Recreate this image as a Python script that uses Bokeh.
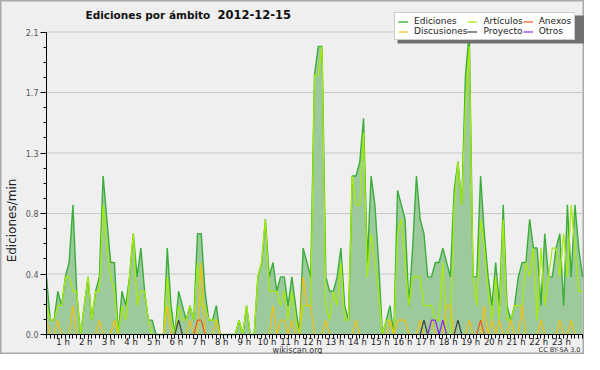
import math
from bokeh.plotting import figure
from bokeh.models import Range1d, FixedTicker, Legend, LegendItem, Label, BoxAnnotation
from bokeh.embed import file_html
from bokeh.resources import INLINE

# ---- data (10-minute steps, edits per minute) ----
hours = list(range(1, 24))
hour_labels = [f"{h} h" for h in hours]
y_ticks = [0.0, 0.42, 0.84, 1.26, 1.68, 2.1]
y_tick_labels = ["0.0", "0.4", "0.8", "1.3", "1.7", "2.1"]

ediciones = [
    0.4, 0.1, 0.1, 0.3, 0.2, 0.4, 0.5, 0.9, 0.3, 0.0,
    0.2, 0.4, 0.1, 0.3, 0.4, 1.1, 0.8, 0.5, 0.5, 0.0,
    0.3, 0.2, 0.4, 0.7, 0.4, 0.6, 0.3, 0.1, 0.1, 0.0,
    0.0, 0.0, 0.6, 0.2, 0.0, 0.3, 0.2, 0.1, 0.2, 0.1,
    0.7, 0.7, 0.3, 0.1, 0.1, 0.2, 0.0, 0.0, 0.0, 0.0,
    0.0, 0.1, 0.0, 0.2, 0.0, 0.0, 0.4, 0.5, 0.8, 0.4,
    0.5, 0.3, 0.4, 0.4, 0.2, 0.4, 0.2, 0.0, 0.6, 0.5,
    0.4, 1.8, 2.0, 2.0, 0.4, 0.3, 0.3, 0.4, 0.6, 0.2,
    0.1, 1.1, 1.1, 1.2, 1.5, 0.5, 1.1, 0.9, 0.5, 0.0,
    0.1, 0.2, 0.0, 1.0, 0.9, 0.8, 0.2, 0.6, 1.1, 0.8,
    0.7, 0.4, 0.4, 0.5, 0.5, 0.6, 0.5, 0.4, 1.0, 1.2,
    0.9, 1.8, 2.1, 0.4, 0.4, 1.1, 0.7, 0.4, 0.2, 0.5,
    0.2, 0.9, 0.2, 0.1, 0.2, 0.4, 0.5, 0.5, 0.8, 0.6,
    0.6, 0.2, 0.7, 0.4, 0.4, 0.6, 0.7, 0.2, 0.9, 0.4,
    0.9, 0.6, 0.4,
]
articulos = [
    0.2, 0.1, 0.1, 0.2, 0.2, 0.4, 0.4, 0.3, 0.3, 0.0,
    0.2, 0.4, 0.1, 0.3, 0.3, 0.9, 0.6, 0.4, 0.3, 0.0,
    0.2, 0.1, 0.4, 0.7, 0.2, 0.3, 0.3, 0.1, 0.0, 0.0,
    0.0, 0.0, 0.4, 0.1, 0.0, 0.2, 0.1, 0.1, 0.2, 0.1,
    0.5, 0.2, 0.2, 0.1, 0.1, 0.1, 0.0, 0.0, 0.0, 0.0,
    0.0, 0.1, 0.0, 0.2, 0.0, 0.0, 0.4, 0.5, 0.8, 0.3,
    0.3, 0.3, 0.2, 0.3, 0.1, 0.3, 0.1, 0.0, 0.2, 0.2,
    0.2, 1.8, 1.8, 2.0, 0.2, 0.1, 0.3, 0.2, 0.5, 0.1,
    0.1, 1.1, 0.9, 0.9, 1.4, 0.4, 0.7, 0.5, 0.3, 0.0,
    0.1, 0.1, 0.0, 0.7, 0.8, 0.5, 0.2, 0.4, 0.4, 0.4,
    0.2, 0.2, 0.2, 0.1, 0.1, 0.5, 0.0, 0.0, 0.9, 1.2,
    0.9, 1.6, 2.0, 0.4, 0.2, 0.8, 0.6, 0.3, 0.1, 0.4,
    0.1, 0.8, 0.1, 0.1, 0.2, 0.2, 0.2, 0.5, 0.4, 0.6,
    0.1, 0.6, 0.2, 0.4, 0.6, 0.6, 0.4, 0.7, 0.4, 0.9,
    0.6, 0.3, 0.3,
]
discusiones = [
    0.1, 0, 0, 0.1, 0, 0, 0, 0.2, 0, 0,
    0, 0, 0, 0, 0.1, 0, 0, 0, 0.1, 0,
    0, 0, 0, 0, 0, 0, 0, 0, 0, 0,
    0, 0, 0.2, 0, 0, 0, 0, 0, 0.1, 0,
    0, 0.5, 0, 0, 0, 0.1, 0, 0, 0, 0,
    0, 0, 0, 0, 0, 0, 0, 0, 0, 0,
    0.2, 0, 0.1, 0.1, 0, 0.1, 0, 0, 0.4, 0.2,
    0.2, 0, 0, 0, 0.1, 0, 0, 0, 0, 0,
    0, 0, 0.1, 0, 0, 0, 0, 0, 0, 0,
    0, 0.1, 0, 0.1, 0.1, 0.1, 0, 0, 0, 0.1,
    0, 0, 0.1, 0, 0, 0, 0.2, 0.2, 0, 0,
    0, 0, 0.1, 0, 0, 0, 0.2, 0, 0.1, 0,
    0.1, 0, 0, 0.1, 0, 0, 0.2, 0, 0, 0,
    0, 0.1, 0, 0, 0, 0, 0.1, 0, 0, 0.1,
    0, 0, 0,
]
anexos = [
    0, 0, 0, 0, 0, 0, 0, 0, 0, 0,
    0, 0, 0, 0, 0, 0, 0, 0, 0, 0,
    0, 0, 0, 0, 0, 0, 0, 0, 0, 0,
    0, 0, 0, 0, 0, 0, 0, 0, 0, 0,
    0.1, 0.1, 0, 0, 0, 0, 0, 0, 0, 0,
    0, 0, 0, 0, 0, 0, 0, 0, 0, 0,
    0, 0, 0, 0, 0, 0, 0, 0, 0, 0,
    0, 0, 0, 0, 0, 0, 0, 0, 0, 0,
    0, 0, 0, 0, 0, 0, 0, 0, 0, 0,
    0, 0, 0, 0, 0, 0, 0, 0, 0, 0,
    0, 0, 0, 0, 0, 0, 0, 0, 0, 0,
    0, 0, 0, 0, 0, 0.1, 0, 0, 0, 0,
    0, 0, 0, 0, 0, 0, 0, 0, 0, 0,
    0, 0, 0, 0, 0, 0, 0, 0, 0, 0,
    0, 0, 0,
]
proyecto = [
    0, 0, 0, 0, 0, 0, 0, 0, 0, 0,
    0, 0, 0, 0, 0, 0, 0, 0, 0, 0,
    0, 0, 0, 0, 0, 0, 0, 0, 0, 0,
    0, 0, 0, 0, 0, 0.1, 0, 0, 0, 0,
    0, 0, 0, 0, 0, 0, 0, 0, 0, 0,
    0, 0, 0, 0, 0, 0, 0, 0, 0, 0,
    0, 0, 0, 0, 0, 0, 0, 0, 0, 0,
    0, 0, 0, 0, 0, 0, 0, 0, 0, 0,
    0, 0, 0, 0, 0, 0, 0, 0, 0, 0,
    0, 0, 0, 0, 0, 0, 0, 0, 0, 0,
    0.1, 0, 0, 0, 0, 0, 0, 0, 0, 0.1,
    0, 0, 0, 0, 0, 0, 0, 0, 0, 0,
    0, 0, 0, 0, 0, 0, 0, 0, 0, 0,
    0, 0, 0, 0, 0, 0, 0, 0, 0, 0,
    0, 0, 0,
]
otros = [
    0, 0, 0, 0, 0, 0, 0, 0, 0, 0,
    0, 0, 0, 0, 0, 0, 0, 0, 0, 0,
    0, 0, 0, 0, 0, 0, 0, 0, 0, 0,
    0, 0, 0, 0, 0, 0, 0, 0, 0, 0,
    0, 0, 0, 0, 0, 0, 0, 0, 0, 0,
    0, 0, 0, 0, 0, 0, 0, 0, 0, 0,
    0, 0, 0, 0, 0, 0, 0, 0, 0, 0,
    0, 0, 0, 0, 0, 0, 0, 0, 0, 0,
    0, 0, 0, 0, 0, 0, 0, 0, 0, 0,
    0, 0, 0, 0, 0, 0, 0, 0, 0, 0,
    0, 0, 0.1, 0.1, 0, 0.1, 0, 0, 0, 0,
    0, 0, 0, 0, 0, 0, 0, 0, 0, 0,
    0, 0, 0, 0, 0, 0, 0, 0, 0, 0,
    0, 0, 0, 0, 0, 0, 0, 0, 0, 0,
    0, 0, 0,
]

x = list(range(len(ediciones)))
n_last = len(ediciones) - 1
y_max = y_ticks[-1]

# ---- layout (pixels in the figure) ----
W, H = 584, 354
PX_LEFT, PX_RIGHT = 46, 582      # plot area horizontal extent
PX_TOP, PX_BOTTOM = 31.5, 334    # plot area vertical extent
kx = (PX_RIGHT - PX_LEFT) / n_last
ky = (PX_BOTTOM - PX_TOP) / y_max

p = figure(width=W, height=H, output_backend="svg", toolbar_location=None,
           x_range=Range1d(-PX_LEFT / kx, (W - PX_LEFT) / kx),
           y_range=Range1d(-(H - PX_BOTTOM) / ky, PX_BOTTOM / ky),
           min_border=0, min_border_left=0, min_border_right=0,
           min_border_top=0, min_border_bottom=0,
           background_fill_color="#efeff0", border_fill_color="#efeff0",
           outline_line_color="#a9a9a9", outline_line_width=2)

# ticks
label_pos = [round(6 * h - 1.6, 2) for h in hours]
xticker = FixedTicker(ticks=label_pos, minor_ticks=x)
yminor = [round(k * y_max / 20, 4) for k in range(21)]
yticker = FixedTicker(ticks=y_ticks, minor_ticks=yminor)

p.xaxis.fixed_location = 0
p.xaxis.bounds = (0, n_last)
p.xaxis.ticker = xticker
p.xaxis.major_label_overrides = dict(zip(label_pos, hour_labels))
p.xaxis.major_tick_line_color = None
p.xaxis.major_tick_out = 0
p.xaxis.major_tick_in = 0
p.xaxis.minor_tick_out = 4
p.xaxis.minor_tick_in = 0
p.xaxis.minor_tick_line_color = "black"
p.xaxis.axis_line_color = "black"
p.xaxis.major_label_standoff = -2
p.xaxis.major_label_text_font = "DejaVu Sans"
p.xaxis.major_label_text_font_size = "8.5px"
p.xaxis.major_label_text_color = "#222222"

p.yaxis.fixed_location = 0
p.yaxis.bounds = (0, y_max)
p.yaxis.ticker = yticker
p.yaxis.major_label_overrides = dict(zip(y_ticks, y_tick_labels))
p.yaxis.major_tick_out = 6
p.yaxis.major_tick_in = 0
p.yaxis.minor_tick_out = 3
p.yaxis.minor_tick_in = 0
p.yaxis.major_tick_line_color = "black"
p.yaxis.minor_tick_line_color = "black"
p.yaxis.axis_line_color = "black"
p.yaxis.major_label_standoff = 2
p.yaxis.major_label_text_font = "DejaVu Sans"
p.yaxis.major_label_text_font_size = "8px"
p.yaxis.major_label_text_color = "#555555"

p.xgrid.visible = False
p.ygrid.visible = False
# horizontal grid lines across the plot area only
p.segment(x0=[0] * len(y_ticks[1:]), x1=[n_last] * len(y_ticks[1:]),
          y0=y_ticks[1:], y1=y_ticks[1:], line_color="#c9c9c9", line_width=1)

# ---- series ----
p.varea(x=x, y1=0, y2=ediciones, fill_color="#9dca9d", fill_alpha=1.0)
r_ed = p.line(x, ediciones, line_color="#3aad3a", line_width=1.4)
r_ar = p.line(x, articulos, line_color="#a8ec00", line_width=1.2)
r_di = p.line(x, discusiones, line_color="#f2c010", line_width=1.2)
r_an = p.line(x, anexos, line_color="#ee5a1a", line_width=1.2)
r_pr = p.line(x, proyecto, line_color="#404040", line_width=1.2)
r_ot = p.line(x, otros, line_color="#8a2be8", line_width=1.2)

# ---- legend with shadow (screen units measured from the bottom-left) ----
LEG_LEFT, LEG_TOP, LEG_BOTTOM, LEG_RIGHT = 394, 12, 40, 581
shadow = BoxAnnotation(left=LEG_LEFT + 3, right=LEG_RIGHT + 3,
                       top=H - (LEG_TOP + 3), bottom=H - (LEG_BOTTOM + 3),
                       left_units="screen", right_units="screen",
                       top_units="screen", bottom_units="screen",
                       fill_color="#707070", fill_alpha=1.0, line_color=None)
p.add_layout(shadow)

legend = Legend(items=[
    LegendItem(label="Ediciones", renderers=[r_ed]),
    LegendItem(label="Discusiones", renderers=[r_di]),
    LegendItem(label="Artículos", renderers=[r_ar]),
    LegendItem(label="Proyecto", renderers=[r_pr]),
    LegendItem(label="Anexos", renderers=[r_an]),
    LegendItem(label="Otros", renderers=[r_ot]),
], location=(LEG_LEFT, H - LEG_BOTTOM), orientation="vertical", nrows=2,
    glyph_width=10, glyph_height=9, label_height=9, label_standoff=6,
    spacing=0, padding=3, margin=0,
    border_line_color="#9a9a9a", border_line_width=1,
    background_fill_color="white", background_fill_alpha=1.0,
    label_text_font="DejaVu Sans", label_text_font_size="9px",
    label_text_color="#222222")
p.add_layout(legend)

# ---- texts ----
p.add_layout(Label(x=85, y=H - 14, x_units="screen", y_units="screen",
                   text="Ediciones por ámbito", text_font="DejaVu Sans",
                   text_font_size="10.5px", text_font_style="bold",
                   text_baseline="middle", text_color="#111111"))
p.add_layout(Label(x=217, y=H - 14, x_units="screen", y_units="screen",
                   text="2012-12-15", text_font="DejaVu Sans",
                   text_font_size="11.5px", text_font_style="bold",
                   text_baseline="middle", text_color="#111111"))
p.add_layout(Label(x=11, y=H - 220, x_units="screen", y_units="screen",
                   text="Ediciones/min", angle=math.pi / 2,
                   text_align="center", text_baseline="middle",
                   text_font="DejaVu Sans", text_font_size="12px",
                   text_color="#222222"))
p.add_layout(Label(x=297, y=H - 349.5, x_units="screen", y_units="screen",
                   text="wikiscan.org", text_align="center",
                   text_baseline="middle", text_font="DejaVu Sans",
                   text_font_size="8px", text_color="#333333"))
p.add_layout(Label(x=580, y=H - 349.5, x_units="screen", y_units="screen",
                   text="CC BY-SA 3.0", text_align="right",
                   text_baseline="middle", text_font="DejaVu Sans",
                   text_font_size="6.5px", text_color="#333333"))

open("out.html", "w").write(file_html(p, INLINE))
